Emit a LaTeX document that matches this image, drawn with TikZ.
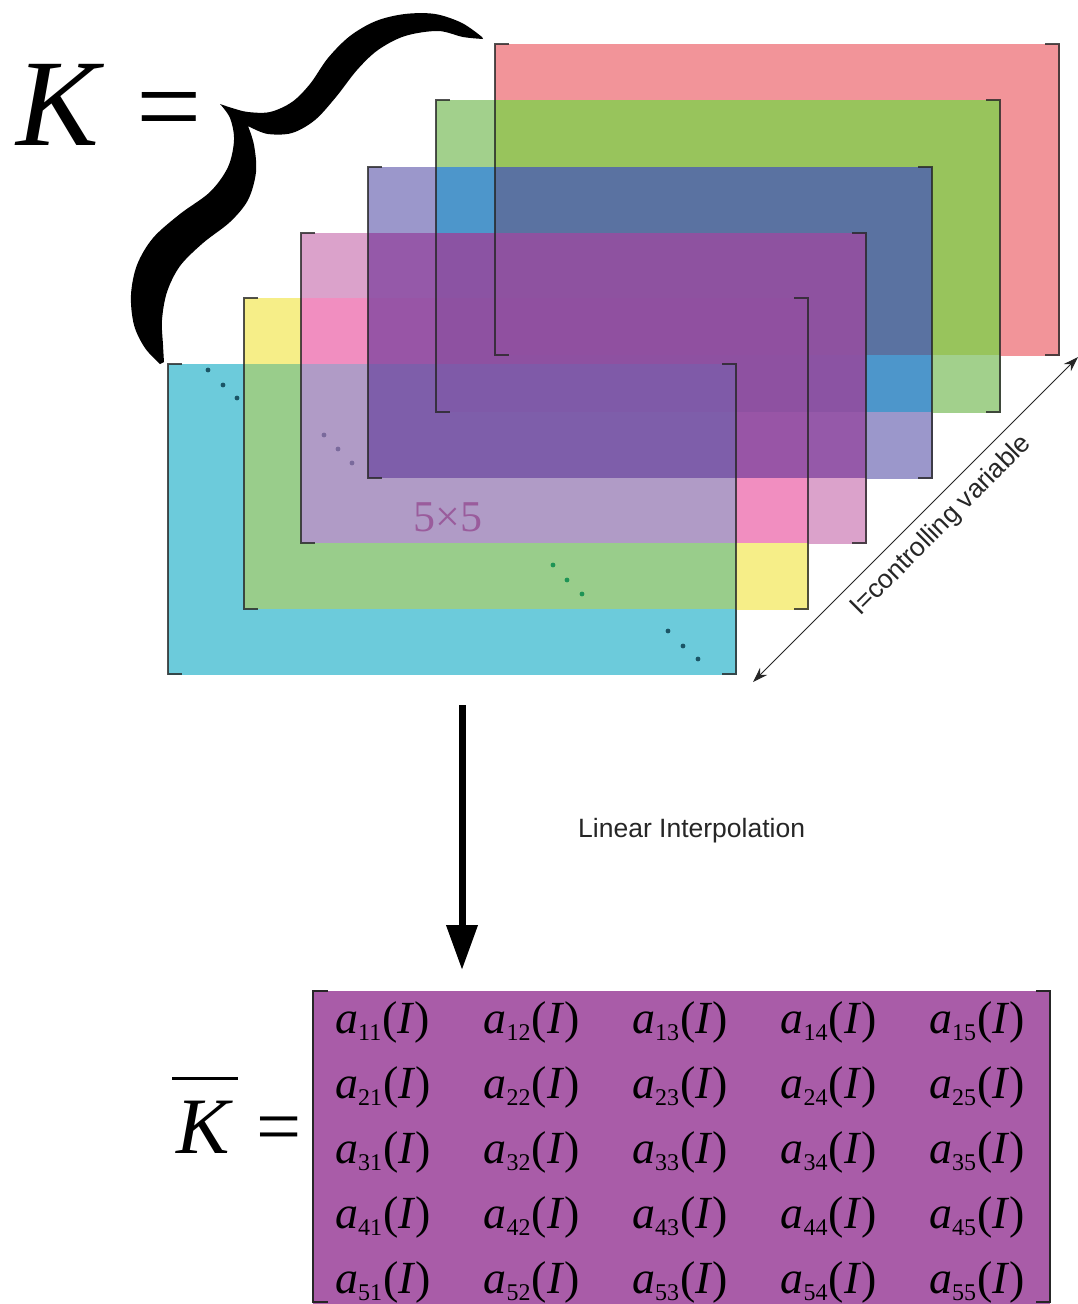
\documentclass[tikz,border=0pt]{standalone}
\usepackage{fontspec}
\setmainfont{Liberation Serif}
\newfontfamily\arialf{Liberation Sans}
\usetikzlibrary{arrows.meta}
% colours of the overlap cells: cl<i><j> = layers i..j stacked
\definecolor{cl00}{HTML}{F29499}
\definecolor{cl11}{HTML}{A2D08C}
\definecolor{cl01}{HTML}{98C45C}
\definecolor{cl22}{HTML}{9B97CB}
\definecolor{cl12}{HTML}{4D96CB}
\definecolor{cl02}{HTML}{5A72A1}
\definecolor{cl33}{HTML}{DBA2CB}
\definecolor{cl23}{HTML}{9559A9}
\definecolor{cl13}{HTML}{8B53A3}
\definecolor{cl03}{HTML}{8E52A0}
\definecolor{cl44}{HTML}{F6EE88}
\definecolor{cl34}{HTML}{F18EC0}
\definecolor{cl24}{HTML}{9855A6}
\definecolor{cl14}{HTML}{8E51A1}
\definecolor{cl04}{HTML}{9050A0}
\definecolor{cl55}{HTML}{6CCBDB}
\definecolor{cl45}{HTML}{99CD8B}
\definecolor{cl35}{HTML}{B09BC6}
\definecolor{cl25}{HTML}{7E5EAA}
\definecolor{cl15}{HTML}{7F5AA8}
\definecolor{matpurple}{HTML}{A95CA8}
\definecolor{dotcyan}{HTML}{1B5566}
\definecolor{dotpurple}{HTML}{7A6A9C}
\definecolor{dotgreen}{HTML}{1E9455}
\definecolor{txtpurple}{HTML}{9A5C9C}
\newcommand{\mentry}[2]{\textit{a}\raisebox{-7pt}{\fontsize{24}{24}\selectfont #1#2}\hspace{1pt}(\textit{I})}
\newcommand{\layerbr}[4]{%
  \draw[brk] ({#1+14},#2) -- (#1,#2) -- (#1,#4) -- ({#1+14},#4);
  \draw[brk] ({#3-14},#2) -- (#3,#2) -- (#3,#4) -- ({#3-14},#4);}
\begin{document}
\begin{tikzpicture}[x=1pt,y=-1pt,
  brk/.style={line width=1.5pt, draw=black!85, draw opacity=0.8},
  mbrk/.style={line width=1.8pt, draw=black!85},
  dotmark/.style={circle, inner sep=0pt, minimum size=4.8pt},
  mentrystyle/.style={inner sep=0pt, anchor=base west, font=\fontsize{46}{48}\selectfont},
  sanslabel/.style={inner sep=0pt, font=\arialf\fontsize{26.5}{28}\selectfont, text=black!85},
  bigarrow/.style={line width=7pt, -{Triangle[length=45pt,width=30pt]}},
  ctlarrow/.style={line width=1pt, draw=black!85, {Stealth[length=15pt,width=10pt]}-{Stealth[length=15pt,width=10pt]}}]
\useasboundingbox (0,0) rectangle (1078,1304);
\fill[white] (0,0) rectangle (1078,1304);

% ---- stacked layers, painted cell by cell ----
\foreach \xa/\xb/\ca/\cb in {168/244/5/5, 244/301/4/5, 301/368/3/5, 368/436/2/5,
    436/495/1/5, 495/736/0/5, 736/808/0/4, 808/866/0/3, 866/932/0/2, 932/1000/0/1, 1000/1059/0/0}{
  \foreach \ya/\yb/\rc/\rd in {44/100/0/0, 100/167/1/0, 167/233/2/0, 233/298/3/0, 298/355/4/0,
      355/364/4/1, 364/412/5/1, 412/478/5/2, 478/543/5/3, 543/609/5/4, 609/674/5/5}{
    \pgfmathtruncatemacro\ii{max(\ca,\rd)}
    \pgfmathtruncatemacro\jj{min(\cb,\rc)}
    \ifnum\ii>\jj\relax\else
      \edef\cname{cl\ii\jj}
      \fill[fill=\cname] (\xa,\ya) rectangle ({\xb+0.5},{\yb+0.5});
    \fi
  }
}
% brackets of the six layers
\layerbr{495}{44}{1059}{355}
\layerbr{436}{100}{1000}{412}
\layerbr{368}{167}{932}{478}
\layerbr{301}{233}{866}{543}
\layerbr{244}{298}{808}{609}
\layerbr{168}{364}{736}{674}

% diagonal dots
\node[dotmark, fill=dotcyan] (dc1) at (208,370) {};
\node[dotmark, fill=dotcyan] (dc2) at (223,385) {};
\node[dotmark, fill=dotcyan] (dc3) at (237,398) {};
\node[dotmark, fill=dotcyan] (dd1) at (668,631) {};
\node[dotmark, fill=dotcyan] (dd2) at (683,646) {};
\node[dotmark, fill=dotcyan] (dd3) at (698,659) {};
\node[dotmark, fill=dotpurple] (dp1) at (324,435) {};
\node[dotmark, fill=dotpurple] (dp2) at (338,449) {};
\node[dotmark, fill=dotpurple] (dp3) at (352,463) {};
\node[dotmark, fill=dotgreen] (dg1) at (553,565) {};
\node[dotmark, fill=dotgreen] (dg2) at (567,580) {};
\node[dotmark, fill=dotgreen] (dg3) at (582,594) {};

\node[inner sep=0pt, anchor=base west, text=txtpurple, font=\fontsize{44}{46}\selectfont] (size) at (413,531) {5×5};

% ---- K = and the big brace ----
\node[inner sep=0pt, anchor=base, font=\fontsize{124}{126}\selectfont\itshape] (Ktop) at (58,145) {K};
\node[inner sep=0pt, anchor=base, font=\fontsize{116}{120}\selectfont] (eqtop) at (169,145) {=};
\fill[black]
  plot[smooth, tension=0.55] coordinates {(482,37) (462,23) (435,14) (405,14) (376,21) (350,36) (328,58) (310,84) (292,102) (270,112) (248,112) (232,108) (220,104)}
  -- plot[smooth, tension=0.55] coordinates {(220,104) (230,118) (234,140) (228,167) (210,192) (180,214) (153,238) (137,265) (131,295) (134,325) (145,348) (160,364)}
  -- plot[smooth, tension=0.55] coordinates {(164,362) (163,345) (162,320) (167,292) (180,266) (203,243) (230,222) (248,200) (256,172) (254,145) (248,126)}
  -- plot[smooth, tension=0.55] coordinates {(252,128) (268,134) (292,133) (315,120) (336,97) (357,70) (378,50) (405,36) (438,31) (463,37) (483,39)}
  -- cycle;

% ---- controlling variable arrow ----
\coordinate (ctlA) at (753,682);
\coordinate (ctlB) at (1078,357);
\draw[ctlarrow] (ctlA) -- node[sloped, below=10pt, sanslabel, pos=0.53] (ctlLbl) {I=controlling variable} (ctlB);

% ---- interpolation arrow ----
\coordinate (arrTop) at (462,705);
\coordinate (arrBot) at (462,970);
\draw[bigarrow] (arrTop) -- (arrBot);
\node[sanslabel, anchor=base west] (interp) at (578,837) {Linear Interpolation};

% ---- resulting matrix ----
\fill[matpurple] (313,991) rectangle (1050,1304);
\draw[mbrk] (328,991) -- (313,991) -- (313,1302) -- (328,1302);
\draw[mbrk] (1036,991) -- (1050,991) -- (1050,1302) -- (1036,1302);
\foreach \r in {1,...,5}{
  \foreach \c in {1,...,5}{
    \node[mentrystyle] (m\r\c) at ({335+148.5*(\c-1)},{1033+65*(\r-1)}) {\mentry{\r}{\c}};
  }
}
\node[inner sep=0pt, anchor=base, font=\fontsize{80}{82}\selectfont\itshape] (Kbar) at (203,1153) {K};
\draw[line width=3pt] (172,1078) -- (238,1078);
\node[inner sep=0pt, anchor=base, font=\fontsize{80}{82}\selectfont] (eqbot) at (279,1153) {=};
\end{tikzpicture}
\end{document}
